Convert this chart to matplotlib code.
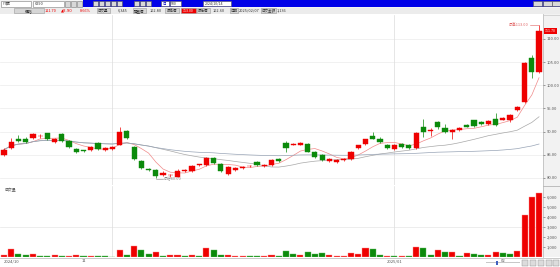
import numpy as np
import pandas as pd
import matplotlib
matplotlib.use("Agg")
import matplotlib.pyplot as plt
from matplotlib.patches import Rectangle

plt.rcParams['font.family'] = ['Noto Sans CJK TC', 'DejaVu Sans']

# daily candles, oldest first
opens = [85.0, 86.5, 88.5, 88.5, 88.7, 89.0, 89.6, 87.8, 89.4, 88.0,
         86.3, 85.9, 86.1, 87.6, 86.1, 86.3, 87.2, 90.2, 86.7, 83.7,
         81.9, 81.7, 80.7, 80.6, 80.2, 81.5, 81.5, 82.8, 82.8, 84.4,
         83.0, 80.9, 81.7, 82.2, 82.5, 83.5, 82.6, 82.8, 84.1, 87.6,
         87.2, 87.2, 87.4, 85.7, 85.0, 83.7, 83.5, 83.9, 84.1, 86.5,
         87.4, 89.1, 88.5, 87.2, 86.3, 87.4, 87.2, 86.5, 91.1, 90.2,
         92.0, 90.7, 90.0, 90.4, 91.5, 92.4, 92.0, 91.7, 92.8, 92.6,
         92.6, 94.6, 96.3, 105.9, 102.8]
closes = [86.1, 87.8, 88.0, 87.8, 89.4, 89.1, 88.3, 88.3, 88.0, 86.7,
          85.7, 85.8, 86.7, 86.3, 86.5, 86.7, 90.0, 88.7, 84.1, 82.2,
          81.8, 80.4, 81.1, 80.7, 81.5, 81.6, 82.6, 82.9, 84.4, 83.3,
          81.5, 82.4, 82.2, 82.4, 82.6, 82.8, 82.8, 83.9, 83.7, 86.5,
          87.3, 87.6, 85.7, 84.6, 83.9, 84.1, 83.9, 84.1, 85.7, 87.0,
          88.3, 88.5, 87.8, 86.5, 87.2, 86.7, 86.5, 89.6, 90.0, 90.3,
          90.9, 90.0, 90.4, 90.7, 91.1, 91.3, 91.7, 92.2, 91.5, 93.0,
          93.5, 95.4, 104.8, 102.8, 111.7]
highs = [86.4, 88.6, 89.2, 88.8, 89.6, 89.4, 89.8, 88.6, 89.6, 88.2,
         86.5, 86.1, 86.9, 87.8, 86.7, 86.9, 91.0, 90.4, 86.9, 83.9,
         82.1, 81.9, 81.4, 80.9, 81.9, 81.9, 82.8, 83.1, 84.6, 84.6,
         83.2, 82.6, 82.4, 82.6, 82.8, 83.7, 83.0, 84.1, 84.3, 88.0,
         87.5, 87.8, 87.6, 85.9, 85.2, 84.3, 84.1, 84.3, 85.9, 87.2,
         88.5, 89.9, 88.9, 87.4, 87.4, 87.6, 87.4, 90.0, 92.8, 90.8,
         92.3, 91.6, 90.6, 90.9, 91.7, 92.6, 92.2, 92.4, 94.0, 93.2,
         93.7, 95.6, 105.0, 106.5, 113.0]
lows = [84.8, 86.3, 87.8, 87.6, 88.5, 88.7, 88.1, 87.6, 87.8, 86.5,
        85.3, 85.5, 85.9, 86.1, 85.9, 86.1, 87.0, 88.5, 83.9, 82.0,
        81.5, 80.0, 80.5, 80.3, 80.1, 81.3, 81.3, 82.6, 82.6, 83.1,
        81.3, 80.7, 81.5, 82.0, 82.3, 82.6, 82.4, 82.6, 83.5, 85.6,
        87.0, 87.0, 85.5, 84.4, 83.7, 83.5, 83.3, 83.7, 83.9, 86.3,
        87.2, 88.3, 87.6, 86.3, 86.1, 86.5, 86.3, 86.3, 88.9, 89.0,
        90.5, 89.8, 88.5, 90.2, 90.9, 91.1, 91.5, 91.5, 91.3, 92.4,
        92.0, 94.4, 96.1, 101.5, 102.6]
volumes = [200, 830, 330, 170, 330, 130, 130, 170, 70, 70,
           230, 50, 100, 50, 50, 30, 730, 200, 1130, 700,
           330, 470, 130, 200, 230, 70, 200, 130, 900, 700,
           200, 150, 100, 80, 60, 120, 70, 150, 120, 600,
           250, 200, 450, 300, 350, 150, 120, 100, 400, 250,
           900, 750, 150, 130, 60, 130, 60, 1030, 930, 170,
           670, 500, 500, 130, 430, 300, 200, 230, 500, 370,
           300, 600, 4200, 6000, 6400]
vol_up = [1, 1, 0, 0, 1, 0, 0, 1, 0, 1, 1, 0, 1, 0, 0, 0, 1, 0, 1, 0,
          0, 1, 0, 1, 1, 0, 1, 0, 1, 0, 0, 1, 1, 1, 0, 0, 1, 1, 0, 0,
          0, 1, 0, 0, 0, 1, 1, 1, 1, 1, 1, 0, 0, 1, 0, 1, 0, 1, 0, 0,
          1, 0, 1, 0, 1, 0, 0, 1, 1, 0, 0, 1, 1, 1, 1]

price_ticks = [80, 85, 90, 95, 100, 105, 110]
vol_ticks = [1000, 2000, 3000, 4000, 5000, 6000]
date_pos = [0, 11, 54, 69]
date_labels = ["2024/10", "11", "2025/01", "02"]
month_lines = [15, 54]

RED = "#ee0000"
GREEN = "#0b8a0b"
W, H = 560, 267

fig = plt.figure(figsize=(5.6, 2.67), dpi=100)
fig.patch.set_facecolor("white")

# ---- pixel overlay for the toolbar / frame decoration
ov = fig.add_axes([0, 0, 1, 1])
ov.set_xlim(0, W)
ov.set_ylim(H, 0)
ov.axis("off")
ov.patch.set_alpha(0)


def box(x0, y0, x1, y1, fc, ec="none", lw=0.4):
    ov.add_patch(Rectangle((x0, y0), x1 - x0, y1 - y0, fc=fc, ec=ec, lw=lw))


def txt(x, y, s, color="#333333", size=3, ha="left", **kw):
    ov.text(x, y, s, color=color, fontsize=size, ha=ha, va="center", **kw)


# row 1: blue toolbar
box(0, 0, W, 7.5, "#f4f4f4")
box(83, 0, W, 7, "#0000e8")
box(1, 0.8, 31, 6.5, "white", "#7a7a7a")
txt(3, 3.7, "代碼", size=2.8)
box(33, 0.8, 64, 6.5, "white", "#7a7a7a")
txt(35, 3.7, "6290", size=2.8)
for x in [64.5, 70.5, 76.5]:
    box(x, 0.8, x + 5.5, 6.5, "#d8d8d8", "#7a7a7a")
for x in [93, 99, 105, 111, 117, 134, 140, 146]:
    box(x, 1, x + 5.3, 6.3, "#d8d8d8", "#555555")
box(161, 1, 169, 6.3, "white", "#555555")
txt(162, 3.7, "日", color="#0000c0", size=2.6)
box(170, 1, 181, 6.3, "white", "#555555")
txt(171, 3.7, "500", size=2.6)
box(203, 1, 231, 6.3, "white", "#555555")
txt(205, 3.7, "2024/10/14", size=2.6)
for x in [533, 543, 552]:
    box(x, 1, x + 8.5, 6.3, "#d8d8d8", "#555555")

# row 2: quote fields
box(0, 7.5, W, 14, "#ececec")
box(14, 8.3, 44, 13.3, "#d6d6d6", "#9a9a9a")
txt(29, 10.8, "價格", ha="center", size=2.8)
txt(45, 10.8, "111.70", color=RED, size=2.8)
txt(61, 10.8, "▲8.90", color=RED, size=2.8, family=["DejaVu Sans"])
txt(80, 10.8, "8.66%", color=RED, size=2.8)
fields = [(97, 110, "成交量", "6,345", 118),
          (133, 146, "開盤價", "102.80", 150),
          (197, 210, "最低價", "102.60", 213),
          (230, 238, "日期", "2025/02/07", 239),
          (261, 276, "成交金額", "1,136", 277)]
for x0, x1, lab, val, xv in fields:
    box(x0, 8.3, x1, 13.3, "#d6d6d6", "#9a9a9a")
    txt((x0 + x1) / 2, 10.8, lab, ha="center", size=2.5)
    txt(xv, 10.8, val, size=2.8)
box(165, 8.3, 179, 13.3, "#d6d6d6", "#9a9a9a")
txt(172, 10.8, "最高價", ha="center", size=2.5)
box(181, 8.3, 196, 13.3, RED, "#9a9a9a")
txt(188.5, 10.8, "113.00", color="white", ha="center", size=2.6)

# right scale strip and date row
box(543, 14, W, 257, "#f2f2f2")
ov.plot([543, 543], [14, 257], color="#b5b5b5", lw=0.5)
ov.plot([0, W], [257.5, 257.5], color="#b5b5b5", lw=0.5)
ov.plot([0, W], [14.5, 14.5], color="#c8c8c8", lw=0.5)
ov.plot([0, W], [185.5, 185.5], color="#b5b5b5", lw=0.6)
box(486, 262, 520, 263.2, "#c8c8c8")
box(496, 260.5, 498, 265, "#4060c0")
for x in [522, 530, 538, 546, 553]:
    box(x, 260, x + 6, 266, "#dcdcdc", "#8a8a8a", 0.3)

# legend row
txt(2, 17, "價格", color="#555555", size=2.8)
txt(10, 17, "5日均(?)", color="#e06060", size=2.8)
txt(28, 17, "月均(?)", color="#8090a8", size=2.8)
txt(42, 17, "季均(?)", color="#909090", size=2.8)

# ---- price panel
x = np.arange(len(opens))
o = np.array(opens)
c = np.array(closes)
up = c >= o
cols = np.where(up, RED, GREEN)

ax = fig.add_axes([0, 1 - 185 / H, 543 / W, 170 / H])
ax.set_xlim(-0.55, 74.55)
ax.set_ylim(78.47, 115.18)
for v in price_ticks:
    ax.axhline(v, color="#ececec", lw=0.5, zorder=0)
for m in month_lines:
    ax.axvline(m, color="#dcdcdc", lw=0.5, zorder=0)

ax.vlines(x, lows, highs, colors=cols, lw=0.5, zorder=2)
body = np.maximum(np.abs(c - o), 0.12)
ax.bar(x, body, bottom=np.minimum(o, c), width=0.72, color=cols,
       edgecolor=cols, lw=0.3, zorder=3)

cs = pd.Series(closes)
ax.plot(x, cs.rolling(5, min_periods=1).mean(), color="#f08a8a", lw=0.5, zorder=1)
ax.plot(x, cs.rolling(20, min_periods=1).mean(), color="#a8a8a8", lw=0.5, zorder=1)
ax.plot(x, cs.rolling(60, min_periods=1).mean(), color="#98a4b6", lw=0.5, zorder=1)

# high / low markers
hi = int(np.argmax(highs))
lo = int(np.argmin(lows))
ax.plot([hi - 1.3, hi], [highs[hi], highs[hi]], color="#e06060", lw=0.4)
ax.text(hi - 1.4, highs[hi], f"最高{highs[hi]:.2f}", color="#e06060",
        fontsize=2.8, ha="right", va="center")
ax.plot([lo, lo + 1.0], [lows[lo] - 0.3, lows[lo] - 0.3], color="#888888", lw=0.4)
ax.text(lo + 1.1, lows[lo] - 0.3, f"最低{lows[lo]:.2f}", color="#888888",
        fontsize=2.8, ha="left", va="center")

ax.yaxis.tick_right()
ax.set_yticks(price_ticks)
ax.set_yticklabels([f"{v:.2f}" for v in price_ticks])
ax.tick_params(axis="y", labelsize=3, colors="#555555", length=1.2,
               width=0.4, pad=1.5)
ax.set_xticks([])
for s in ax.spines.values():
    s.set_visible(False)
ax.text(1.004, closes[-1], f"{closes[-1]:.2f}", transform=ax.get_yaxis_transform(),
        fontsize=2.6, color="white", ha="left", va="center", zorder=5,
        bbox=dict(boxstyle="square,pad=0.25", fc=RED, ec="none"), clip_on=False)

# ---- volume panel
vax = fig.add_axes([0, 1 - 257 / H, 543 / W, 71 / H])
vax.set_xlim(-0.55, 74.55)
vax.set_ylim(0, 7050)
vax.axhline(3000, color="#e6e6e6", lw=0.5, zorder=0)
for m in month_lines:
    vax.axvline(m, color="#dcdcdc", lw=0.5, zorder=0)
vcols = [RED if u else GREEN for u in vol_up]
vedges = ["#ff8c8c" if u else "#5cb85c" for u in vol_up]
vax.bar(x, volumes, width=0.84, color=vcols, edgecolor=vedges, lw=0.3, zorder=2)
vax.text(0.008, 0.94, "成交量", transform=vax.transAxes, fontsize=2.8,
         color="#555555", ha="left", va="center")
vax.yaxis.tick_right()
vax.set_yticks(vol_ticks)
vax.set_yticklabels([f"{v:,}" for v in vol_ticks])
vax.tick_params(axis="y", labelsize=3, colors="#555555", length=1.2,
                width=0.4, pad=1.5)
vax.set_xticks(date_pos)
vax.set_xticklabels(date_labels)
vax.tick_params(axis="x", labelsize=3, colors="#555555", length=0, pad=1.5)
vax.get_xticklabels()[0].set_ha("left")
for s in vax.spines.values():
    s.set_visible(False)

fig.savefig("out.png", dpi=100)
